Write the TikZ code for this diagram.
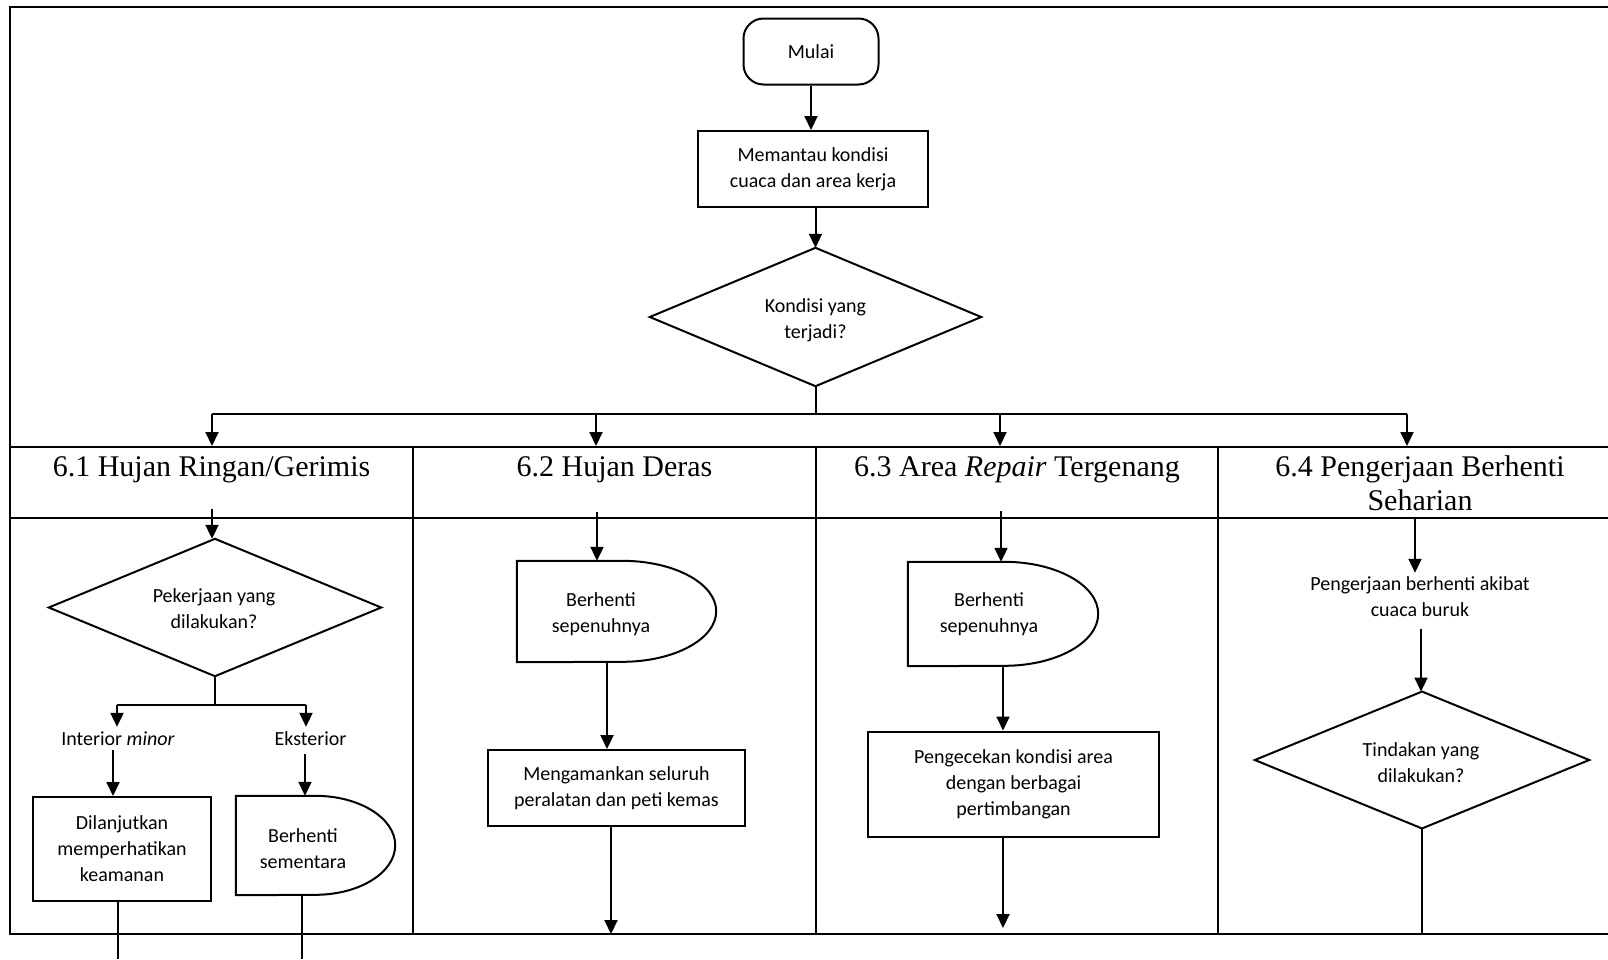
\documentclass[tikz,border=0pt]{standalone}
\usepackage{fontspec}
\setmainfont{Liberation Serif}
\newfontfamily\calib{Carlito}
\usetikzlibrary{arrows.meta,calc}

\begin{document}
\begin{tikzpicture}[x=1pt,y=-1pt,
  every node/.style={font=\calib\fontsize{20pt}{26pt}\selectfont, align=center, inner sep=0pt},
  hdr/.style={font=\fontsize{30pt}{34pt}\selectfont, anchor=base},
  frameline/.style={line width=2.2pt},
  divider/.style={line width=1.3pt},
  outline/.style={line width=2pt, line join=miter},
  procbox/.style={draw, outline},
  extent/.style={draw=none},
  conn/.style={line width=2pt},
  arr/.style={conn, -{Triangle[length=14pt,width=13pt]}},
  lbl/.style={inner sep=5pt}]

% canvas
\useasboundingbox (0,0) rectangle (1608,959);
\fill[white] (0,0) rectangle (1608,959);

% frame and swimlanes
\draw[frameline] (1608,7) -- (10,7) -- (10,934) -- (1608,934);
\draw[frameline] (10,447) -- (1608,447);
\draw[frameline] (10,518) -- (1608,518);
\draw[divider] (413,447) -- (413,934);
\draw[divider] (816,447) -- (816,934);
\draw[divider] (1218,447) -- (1218,934);

% lane headings (base = baseline of the last line)
\node[hdr] (h1) at (211.5,476) {6.1 Hujan Ringan/Gerimis};
\node[hdr] (h2) at (614.5,476) {6.2 Hujan Deras};
\node[hdr] (h3) at (1017,476) {6.3 Area \textit{Repair} Tergenang};
\node[hdr] (h4) at (1420,510) {6.4 Pengerjaan Berhenti\\Seharian};

% start, monitoring, decision
\node[draw, outline, rounded corners=20pt, minimum width=135pt, minimum height=66pt] (mulai) at (811,51.5) {Mulai};
\node[procbox, minimum width=230pt, minimum height=76pt] (memantau) at (813,169) {Memantau kondisi\\cuaca dan area kerja};
\node[extent, minimum width=331pt, minimum height=138pt] (kondisi) at (815.5,317) {};
\node (kondisit) at (815.5,320) {Kondisi yang\\terjadi?};
\draw[outline] (kondisi.north) -- (kondisi.east) -- (kondisi.south) -- (kondisi.west) -- cycle;

\draw[arr] (mulai.south) -- (mulai.south |- memantau.north);
\draw[arr] (kondisi.north |- memantau.south) -- (kondisi.north);

% branching bus into the four lanes
\coordinate (b1) at (212,414);
\coordinate (b2) at (596,414);
\coordinate (b3) at (1000,414);
\coordinate (b4) at (1407,414);
\coordinate (lanetop) at (0,446);
\draw[conn] (kondisi.south) -- (kondisi.south |- b1);
\draw[conn] (b1) -- (b4);
\draw[arr] (b1) -- (b1 |- lanetop);
\draw[arr] (b2) -- (b2 |- lanetop);
\draw[arr] (b3) -- (b3 |- lanetop);
\draw[arr] (b4) -- (b4 |- lanetop);

% ---- lane 6.1
\coordinate (in1) at (212,509);
\node[extent, minimum width=332pt, minimum height=137pt] (pek) at (215,607.5) {};
\node (pekt) at (214,609) {Pekerjaan yang\\dilakukan?};
\draw[outline] (pek.north) -- (pek.east) -- (pek.south) -- (pek.west) -- cycle;
\draw[arr] (in1) -- (in1 |- pek.north);

\coordinate (s1) at (117,705);
\coordinate (s2) at (306,705);
\draw[conn] (pek.south) -- (pek.south |- s1);
\draw[conn] (s1) -- (s2);
\node[lbl] (int) at (118,739) {Interior \textit{minor}};
\node[lbl] (eks) at (310.5,739) {Eksterior};
\draw[arr] (s1) -- (s1 |- int.north);
\draw[arr] (s2) -- (s2 |- eks.north);

\node[procbox, minimum width=178pt, minimum height=104pt] (lanjut) at (122,849) {Dilanjutkan\\memperhatikan\\keamanan};
\node[extent, minimum width=159pt, minimum height=99pt] (henti1) at (315.5,845.5) {};
\node (henti1t) at (303,849) {Berhenti\\sementara};
\draw[outline] (henti1.north west) -- ($(henti1.north east)+(-80,0)$)
  arc[start angle=90, end angle=-90, x radius=80pt, y radius=49.5pt] -- (henti1.south west) -- cycle;

\coordinate (c1) at (113,750);
\coordinate (c2) at (305,754);
\draw[arr] (c1) -- (c1 |- lanjut.north);
\draw[arr] (c2) -- (c2 |- henti1.north);

\coordinate (o1) at (118,959);
\coordinate (o2) at (302,959);
\draw[conn] (o1 |- lanjut.south) -- (o1);
\draw[conn] (o2 |- henti1.south) -- (o2);

% ---- lane 6.2
\coordinate (in2) at (597,512);
\node[extent, minimum width=199pt, minimum height=101pt] (henti2) at (616.5,611.5) {};
\node (henti2t) at (601,614) {Berhenti\\sepenuhnya};
\draw[outline] (henti2.north west) -- ($(henti2.north east)+(-94,0)$)
  arc[start angle=90, end angle=-90, x radius=94pt, y radius=50.5pt] -- (henti2.south west) -- cycle;
\draw[arr] (in2) -- (in2 |- henti2.north);

\node[procbox, minimum width=257pt, minimum height=76pt] (aman) at (616.5,788) {Mengamankan seluruh\\peralatan dan peti kemas};
\coordinate (x2a) at (607,0);
\draw[arr] (x2a |- henti2.south) -- (x2a |- aman.north);
\coordinate (x2b) at (611,934);
\draw[arr] (x2b |- aman.south) -- (x2b);

% ---- lane 6.3
\coordinate (in3) at (1001,511);
\node[extent, minimum width=190pt, minimum height=104pt] (henti3) at (1003,614) {};
\node (henti3t) at (989,614.5) {Berhenti\\sepenuhnya};
\draw[outline] (henti3.north west) -- ($(henti3.north east)+(-94,0)$)
  arc[start angle=90, end angle=-90, x radius=94pt, y radius=52pt] -- (henti3.south west) -- cycle;
\draw[arr] (in3) -- (in3 |- henti3.north);

\node[procbox, minimum width=291pt, minimum height=105pt] (cek) at (1013.5,784) {Pengecekan kondisi area\\dengan berbagai\\pertimbangan};
\coordinate (x3a) at (1003,0);
\draw[arr] (x3a |- henti3.south) -- (x3a |- cek.north);
\coordinate (x3b) at (1003,928);
\draw[arr] (x3b |- cek.south) -- (x3b);

% ---- lane 6.4
\coordinate (in4) at (1415,518);
\node[inner sep=4pt] (akibat) at (1420,597) {Pengerjaan berhenti akibat\\cuaca buruk};
\draw[arr] (in4) -- (in4 |- akibat.north);
\node[extent, minimum width=334pt, minimum height=136.5pt] (tind) at (1422,760) {};
\node (tindt) at (1421,762.5) {Tindakan yang\\dilakukan?};
\draw[outline] (tind.north) -- (tind.east) -- (tind.south) -- (tind.west) -- cycle;
\coordinate (x4) at (1421,629);
\draw[arr] (x4) -- (x4 |- tind.north);
\coordinate (o4) at (1421,934);
\draw[conn] (tind.south) -- (tind.south |- o4);

\end{tikzpicture}
\end{document}
